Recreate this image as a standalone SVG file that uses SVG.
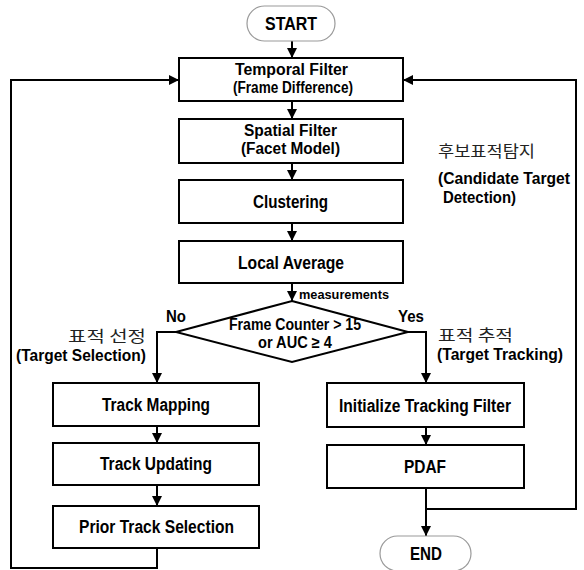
<svg xmlns="http://www.w3.org/2000/svg" width="584" height="570" viewBox="0 0 584 570">
<style>
.box{fill:#fff;stroke:#000;stroke-width:2}
.term{fill:#fff;stroke:#9a9a9a;stroke-width:1.2}
.t{font-family:"Liberation Sans Narrow","Liberation Sans",Arial,sans-serif;font-weight:bold;font-size:17px;fill:#000}
.b{font-family:"Liberation Sans Narrow","Liberation Sans",Arial,sans-serif;font-weight:bold;font-size:18px;fill:#000}
.t2{font-family:"Liberation Sans Narrow","Liberation Sans",Arial,sans-serif;font-weight:bold;font-size:16px;fill:#000}
.s{font-family:"Liberation Sans Narrow","Liberation Sans",Arial,sans-serif;font-weight:bold;font-size:13px;fill:#000}
.k{font-family:"Noto Sans CJK KR","Noto Sans",sans-serif;font-size:16px;fill:#222}
.c{fill:none;stroke:#000;stroke-width:2}
</style>
<defs>
<marker id="ah" markerUnits="userSpaceOnUse" markerWidth="11" markerHeight="11" refX="10" refY="5" orient="auto">
<path d="M0,0 L10,5 L0,10 z" fill="#000"/>
</marker>
</defs>
<g id="connectors">
<line class="c" x1="292" y1="41" x2="292" y2="58" marker-end="url(#ah)"/>
<line class="c" x1="292" y1="101" x2="292" y2="119" marker-end="url(#ah)"/>
<line class="c" x1="292" y1="163" x2="292" y2="180" marker-end="url(#ah)"/>
<line class="c" x1="292" y1="223" x2="292" y2="241" marker-end="url(#ah)"/>
<line class="c" x1="292" y1="283" x2="292" y2="301" marker-end="url(#ah)"/>
<polyline class="c" points="176,332 157,332 157,383" marker-end="url(#ah)"/>
<polyline class="c" points="408,332 426,332 426,383" marker-end="url(#ah)"/>
<line class="c" x1="157" y1="426" x2="157" y2="443" marker-end="url(#ah)"/>
<line class="c" x1="157" y1="485" x2="157" y2="506" marker-end="url(#ah)"/>
<line class="c" x1="426" y1="427" x2="426" y2="445" marker-end="url(#ah)"/>
<line class="c" x1="426" y1="488" x2="426" y2="536" marker-end="url(#ah)"/>
<polyline class="c" points="157,548 157,568 11,568 11,80 179,80" marker-end="url(#ah)"/>
<polyline class="c" points="426,509 576,509 576,80 403,80" marker-end="url(#ah)"/>
</g>
<g id="start">
<rect class="term" x="247" y="6" width="88" height="35" rx="17.5"/>
<text class="b" x="265" y="29.5" textLength="52" lengthAdjust="spacingAndGlyphs">START</text>
</g>
<g id="temporal">
<rect class="box" x="179" y="58" width="224" height="43"/>
<text class="t2" x="235" y="75" textLength="113" lengthAdjust="spacingAndGlyphs">Temporal Filter</text>
<text class="t2" x="233" y="93" textLength="120" lengthAdjust="spacingAndGlyphs">(Frame Difference)</text>
</g>
<g id="spatial">
<rect class="box" x="179" y="119" width="224" height="44"/>
<text class="t2" x="244" y="136" textLength="93" lengthAdjust="spacingAndGlyphs">Spatial Filter</text>
<text class="t2" x="241" y="154" textLength="99" lengthAdjust="spacingAndGlyphs">(Facet Model)</text>
</g>
<g id="clustering">
<rect class="box" x="179" y="180" width="224" height="43"/>
<text class="b" x="253" y="208" textLength="75" lengthAdjust="spacingAndGlyphs">Clustering</text>
</g>
<g id="localavg">
<rect class="box" x="179" y="241" width="224" height="42"/>
<text class="b" x="238" y="268.5" textLength="106" lengthAdjust="spacingAndGlyphs">Local Average</text>
</g>
<g id="detection-label">
<text class="k" x="438" y="157" textLength="97" lengthAdjust="spacingAndGlyphs">후보표적탐지</text>
<text class="t" x="438" y="184" textLength="132" lengthAdjust="spacingAndGlyphs">(Candidate Target</text>
<text class="t" x="443" y="203" textLength="73" lengthAdjust="spacingAndGlyphs">Detection)</text>
</g>
<g id="measurements">
<text class="s" x="299" y="299" textLength="90" lengthAdjust="spacingAndGlyphs">measurements</text>
</g>
<g id="decision">
<polygon class="box" points="292,301 408,332 292,362 176,332"/>
<text class="t2" x="229" y="330" textLength="132" lengthAdjust="spacingAndGlyphs">Frame Counter &gt; 15</text>
<text class="t2" x="258" y="348" textLength="74" lengthAdjust="spacingAndGlyphs">or AUC ≥ 4</text>
</g>
<g id="no-label">
<text class="t" x="166" y="322" textLength="20" lengthAdjust="spacingAndGlyphs">No</text>
<text class="k" x="68" y="342" textLength="78" lengthAdjust="spacingAndGlyphs">표적 선정</text>
<text class="t" x="16" y="361" textLength="130" lengthAdjust="spacingAndGlyphs">(Target Selection)</text>
</g>
<g id="yes-label">
<text class="t" x="398" y="322" textLength="26" lengthAdjust="spacingAndGlyphs">Yes</text>
<text class="k" x="438" y="341" textLength="75" lengthAdjust="spacingAndGlyphs">표적 추적</text>
<text class="t" x="437" y="360" textLength="126" lengthAdjust="spacingAndGlyphs">(Target Tracking)</text>
</g>
<g id="trackmapping">
<rect class="box" x="53" y="383" width="206" height="43"/>
<text class="b" x="102" y="410.5" textLength="108" lengthAdjust="spacingAndGlyphs">Track Mapping</text>
</g>
<g id="trackupdating">
<rect class="box" x="53" y="443" width="206" height="42"/>
<text class="b" x="100" y="469.5" textLength="112" lengthAdjust="spacingAndGlyphs">Track Updating</text>
</g>
<g id="priortrack">
<rect class="box" x="53" y="506" width="206" height="42"/>
<text class="b" x="79" y="532.5" textLength="155" lengthAdjust="spacingAndGlyphs">Prior Track Selection</text>
</g>
<g id="inittracking">
<rect class="box" x="327" y="383" width="197" height="44"/>
<text class="b" x="339" y="411.5" textLength="172" lengthAdjust="spacingAndGlyphs">Initialize Tracking Filter</text>
</g>
<g id="pdaf">
<rect class="box" x="327" y="445" width="197" height="43"/>
<text class="b" x="404" y="472.5" textLength="42" lengthAdjust="spacingAndGlyphs">PDAF</text>
</g>
<g id="end">
<rect class="term" x="380" y="536" width="91" height="35" rx="17.5"/>
<text class="b" x="410" y="559.5" textLength="32" lengthAdjust="spacingAndGlyphs">END</text>
</g>
</svg>
